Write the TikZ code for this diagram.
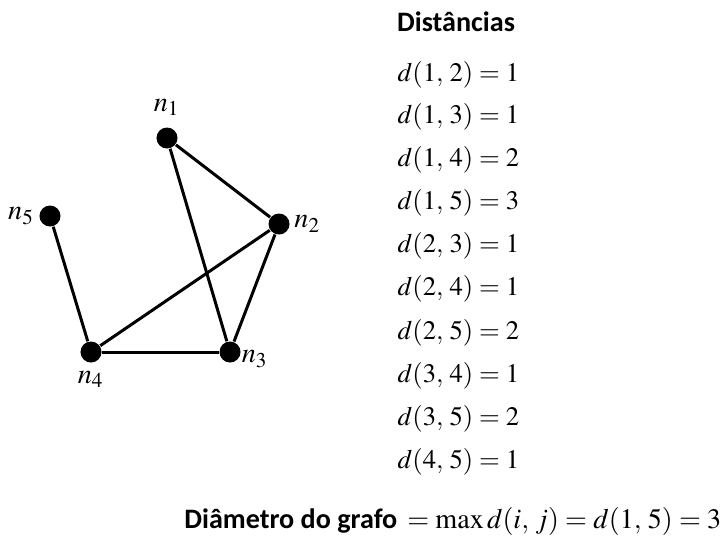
\documentclass[tikz,border=0pt]{standalone}
\usepackage{mathptmx}
\usepackage[no-math]{fontspec}
\newfontfamily\headfont{Carlito}
\usetikzlibrary{positioning}

\begin{document}
\begin{tikzpicture}[
        x=0.01cm, y=-0.01cm,
        every node/.style={font=\fontsize{8}{9}\selectfont},
        vert/.style={circle, fill=black, minimum size=0.21cm, inner sep=0pt},
        vlabel/.style={font=\fontsize{8}{9}\selectfont, inner sep=1pt},
        edge/.style={line width=0.85pt, black},
        dist/.style={anchor=west, inner sep=0pt, font=\fontsize{7.6}{9}\selectfont}
    ]
        \useasboundingbox (0,0) rectangle (725,542);

        % Graph vertices
        \node[vert, label={[vlabel, yshift=2pt]above:$n_1$}] (n1) at (167,138) {};
        \node[vert, label={[vlabel]right:$n_2$}] (n2) at (279,224) {};
        \node[vert, label={[vlabel, xshift=-1pt, yshift=-2pt]right:$n_3$}] (n3) at (230,352) {};
        \node[vert, label={[vlabel, yshift=-1pt]below:$n_4$}] (n4) at (91,352) {};
        \node[vert, label={[vlabel]left:$n_5$}] (n5) at (50,216) {};

        % Graph edges
        \draw[edge] (n1) -- (n2);
        \draw[edge] (n1) -- (n3);
        \draw[edge] (n2) -- (n3);
        \draw[edge] (n2) -- (n4);
        \draw[edge] (n4) -- (n3);
        \draw[edge] (n5) -- (n4);

        % Distances
        \node[font=\headfont\bfseries\fontsize{8}{9}\selectfont] (title) at (456,22) {Distâncias};
        \node[dist] (d12) at (397,75) {$d(1,\,2) = 1$};
        \node[dist] (d13) at (397,117) {$d(1,\,3) = 1$};
        \node[dist] (d14) at (397,160) {$d(1,\,4) = 2$};
        \node[dist] (d15) at (397,203) {$d(1,\,5) = 3$};
        \node[dist] (d23) at (397,246) {$d(2,\,3) = 1$};
        \node[dist] (d24) at (397,289) {$d(2,\,4) = 1$};
        \node[dist] (d25) at (397,333) {$d(2,\,5) = 2$};
        \node[dist] (d34) at (397,376) {$d(3,\,4) = 1$};
        \node[dist] (d35) at (397,419) {$d(3,\,5) = 2$};
        \node[dist] (d45) at (397,462) {$d(4,\,5) = 1$};

        % Diameter
        \node[anchor=east, inner sep=0pt] (diam) at (722,521)
            {{\headfont\bfseries Diâmetro do grafo} $= \max d(i,\,j) = d(1,\,5) = 3$};
\end{tikzpicture}
\end{document}
